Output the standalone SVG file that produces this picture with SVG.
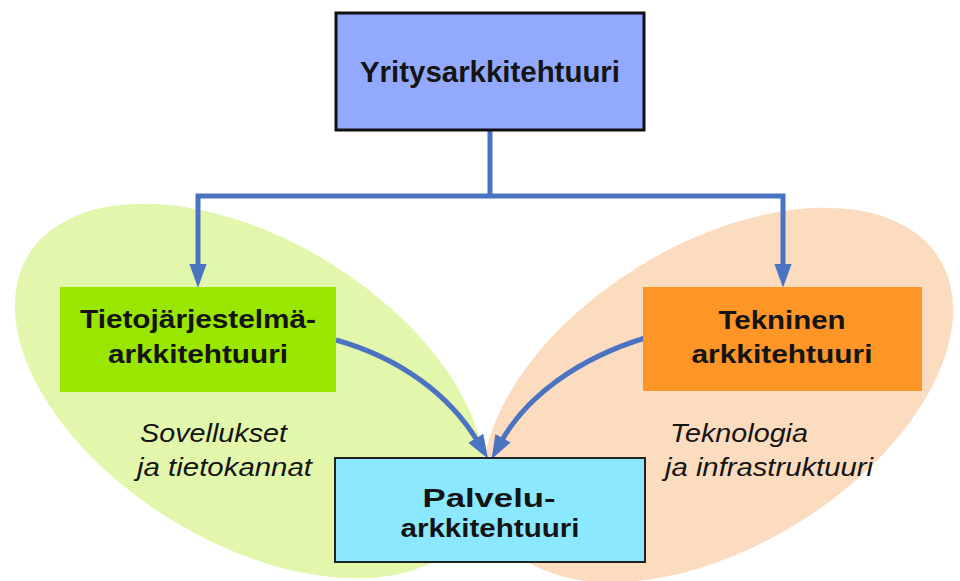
<svg xmlns="http://www.w3.org/2000/svg" width="960" height="581" viewBox="0 0 960 581">
<style>
.lbl{font-family:"Liberation Sans",Arial,sans-serif;font-weight:bold;fill:#141414;text-anchor:middle}
.it{font-family:"Liberation Sans",Arial,sans-serif;font-style:italic;fill:#141414;font-size:25px}
.con{fill:none;stroke:#4a74c2;stroke-width:5}
</style>
<defs>
<marker id="ah" markerUnits="userSpaceOnUse" markerWidth="24" markerHeight="18" viewBox="0 0 22 16" refX="4" refY="8" orient="auto">
<path d="M0,0 L22,8 L0,16 z" fill="#4a74c2"/>
</marker>
</defs>
<rect width="960" height="581" fill="#ffffff"/>
<g id="bg-green"><ellipse cx="250" cy="391" rx="260" ry="151" transform="rotate(31.6 250 391)" fill="#e2f7ab"/></g>
<g id="bg-orange"><ellipse cx="718" cy="395" rx="260" ry="151" transform="rotate(-31.6 718 395)" fill="#fbdcbf"/></g>
<g id="connectors">
<path class="con" d="M490,131 V196"/>
<path class="con" d="M490,196 H198 V268" marker-end="url(#ah)"/>
<path class="con" d="M490,196 H783 V268" marker-end="url(#ah)"/>
<path class="con" d="M336,340 C400,358 450,395 478,442" marker-end="url(#ah)"/>
<path class="con" d="M645,338 C580,358 527,395 501,442" marker-end="url(#ah)"/>
</g>
<g id="yritys">
<rect x="336" y="13" width="308" height="117" fill="#93a9fd" stroke="#111" stroke-width="3"/>
<text class="lbl" x="490" y="82" font-size="29" textLength="260" lengthAdjust="spacingAndGlyphs">Yritysarkkitehtuuri</text>
</g>
<g id="tietojarjestelma">
<rect x="60" y="287" width="276" height="105" fill="#99e600"/>
<text class="lbl" x="198" y="328" font-size="25.5" textLength="236" lengthAdjust="spacingAndGlyphs">Tietojärjestelmä-</text>
<text class="lbl" x="198" y="363" font-size="25.5" textLength="180" lengthAdjust="spacingAndGlyphs">arkkitehtuuri</text>
</g>
<g id="tekninen">
<rect x="643" y="287" width="279" height="104" fill="#fd9527"/>
<text class="lbl" x="782" y="329" font-size="25.5" textLength="127" lengthAdjust="spacingAndGlyphs">Tekninen</text>
<text class="lbl" x="782" y="363" font-size="25.5" textLength="181" lengthAdjust="spacingAndGlyphs">arkkitehtuuri</text>
</g>
<g id="palvelu">
<rect x="335" y="458" width="310" height="104" fill="#8ce8ff" stroke="#222" stroke-width="2"/>
<text class="lbl" x="489" y="507" font-size="25.5" textLength="133" lengthAdjust="spacingAndGlyphs">Palvelu-</text>
<text class="lbl" x="490" y="537" font-size="25.5" textLength="179" lengthAdjust="spacingAndGlyphs">arkkitehtuuri</text>
</g>
<g id="sovellukset">
<text class="it" x="140" y="442" textLength="147" lengthAdjust="spacingAndGlyphs">Sovellukset</text>
<text class="it" x="137" y="476" textLength="175" lengthAdjust="spacingAndGlyphs">ja tietokannat</text>
</g>
<g id="teknologia">
<text class="it" x="670" y="442" textLength="138" lengthAdjust="spacingAndGlyphs">Teknologia</text>
<text class="it" x="665" y="476" textLength="208" lengthAdjust="spacingAndGlyphs">ja infrastruktuuri</text>
</g>
</svg>
